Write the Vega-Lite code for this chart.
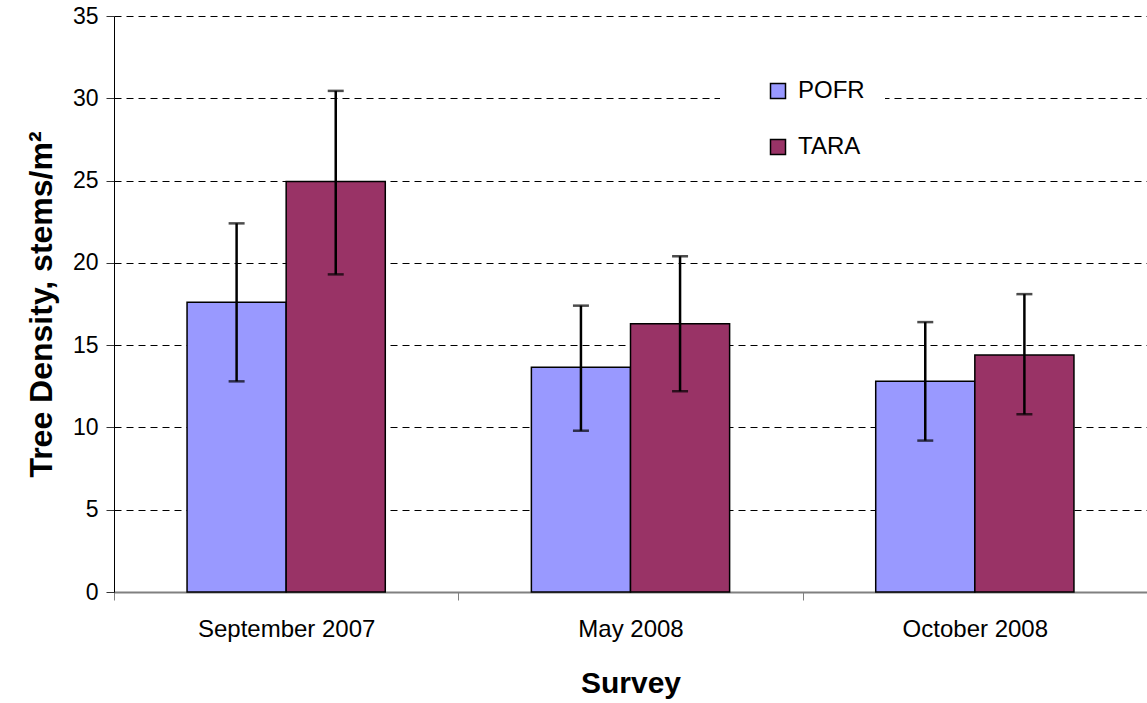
{
  "$schema": "https://vega.github.io/schema/vega-lite/v6.json",
  "width": 1033,
  "height": 576,
  "autosize": {"type": "none"},
  "padding": {"left": 114, "top": 16, "right": 0, "bottom": 111},
  "background": "white",
  "config": {"view": {"stroke": null}, "font": "Liberation Sans"},
  "data": {
    "values": [
      {"survey": "September 2007", "species": "POFR", "value": 17.6, "low": 12.8, "high": 22.4},
      {"survey": "September 2007", "species": "TARA", "value": 24.95, "low": 19.3, "high": 30.45},
      {"survey": "May 2008", "species": "POFR", "value": 13.65, "low": 9.8, "high": 17.4},
      {"survey": "May 2008", "species": "TARA", "value": 16.3, "low": 12.2, "high": 20.4},
      {"survey": "October 2008", "species": "POFR", "value": 12.8, "low": 9.2, "high": 16.4},
      {"survey": "October 2008", "species": "TARA", "value": 14.4, "low": 10.8, "high": 18.1}
    ]
  },
  "encoding": {
    "x": {
      "field": "survey",
      "type": "nominal",
      "sort": ["September 2007", "May 2008", "October 2008"],
      "scale": {"paddingInner": 0, "paddingOuter": 0},
      "axis": {
        "title": "Survey",
        "titleFontSize": 30,
        "titleFontWeight": "bold",
        "titleColor": "black",
        "titlePadding": 27,
        "labelAngle": 0,
        "labelFontSize": 24,
        "labelColor": "black",
        "labelPadding": 17,
        "tickBand": "extent",
        "tickSize": 8,
        "tickColor": "#808080",
        "domainColor": "#808080",
        "domainWidth": 2,
        "grid": false
      }
    },
    "xOffset": {
      "field": "species",
      "type": "nominal",
      "sort": ["POFR", "TARA"],
      "scale": {"paddingInner": 0, "paddingOuter": 0.737}
    }
  },
  "layer": [
    {
      "mark": {"type": "bar", "stroke": "black", "strokeWidth": 1.5},
      "encoding": {
        "y": {
          "field": "value",
          "type": "quantitative",
          "scale": {"domain": [0, 35], "nice": false},
          "axis": {
            "title": "Tree Density, stems/m²",
            "titleFontSize": 32,
            "titleFontWeight": "bold",
            "titleColor": "black",
            "titlePadding": 14,
            "values": [0, 5, 10, 15, 20, 25, 30, 35],
            "labelFontSize": 23,
            "labelColor": "black",
            "labelPadding": 8,
            "tickSize": 8,
            "tickColor": "#333",
            "domainColor": "black",
            "grid": true,
            "gridColor": "black",
            "gridDash": [7, 5],
            "gridWidth": 1
          }
        },
        "color": {
          "field": "species",
          "type": "nominal",
          "scale": {"domain": ["POFR", "TARA"], "range": ["#9999FF", "#993366"]},
          "legend": {
            "title": null,
            "orient": "none",
            "legendX": 606,
            "legendY": 43,
            "fillColor": "white",
            "padding": 20,
            "symbolType": "square",
            "symbolSize": 225,
            "symbolStrokeColor": "black",
            "symbolStrokeWidth": 1.5,
            "symbolOffset": 26,
            "labelFontSize": 24,
            "labelColor": "black",
            "labelOffset": 8,
            "rowPadding": 32
          }
        }
      }
    },
    {
      "mark": {"type": "rule", "color": "black", "strokeWidth": 2.5},
      "encoding": {
        "y": {"field": "low", "type": "quantitative", "title": "Tree Density, stems/m²"},
        "y2": {"field": "high"}
      }
    },
    {
      "mark": {"type": "tick", "color": "black", "size": 16, "thickness": 2.5},
      "encoding": {
        "y": {"field": "high", "type": "quantitative", "title": "Tree Density, stems/m²"}
      }
    },
    {
      "mark": {"type": "tick", "color": "black", "size": 16, "thickness": 2.5},
      "encoding": {
        "y": {"field": "low", "type": "quantitative", "title": "Tree Density, stems/m²"}
      }
    }
  ]
}
